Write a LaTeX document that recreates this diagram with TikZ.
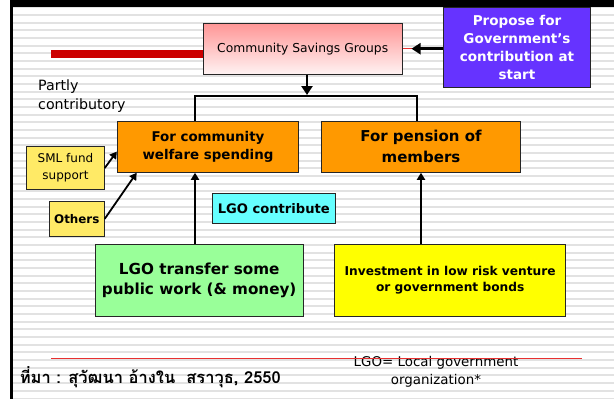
\documentclass[tikz,border=0pt]{standalone}
\usepackage{fontspec}
\setmainfont{DejaVu Sans}
\newfontfamily\thaifont[Script=Thai]{Loma}
\usetikzlibrary{arrows.meta,positioning}

\definecolor{govpurple}{RGB}{102,51,255}
\definecolor{fundorange}{RGB}{255,153,0}
\definecolor{lgocyan}{RGB}{102,255,255}
\definecolor{lgogreen}{RGB}{153,255,153}
\definecolor{bondyellow}{RGB}{255,255,0}
\definecolor{smlyellow}{RGB}{255,234,102}
\definecolor{barred}{RGB}{204,0,0}
\definecolor{thinred}{RGB}{232,48,48}
\definecolor{stripegray}{RGB}{226,226,226}
\definecolor{csgpink}{RGB}{255,150,150}

\begin{document}
\begin{tikzpicture}[x=1pt,y=-1pt,
    box/.style={draw=black!85, line width=0.9, inner sep=0, align=center},
    arr/.style={-{Triangle[length=7,width=8]}, line width=1.8},
    bigarr/.style={-{Triangle[length=9,width=11]}, line width=2.8},
    link/.style={line width=1.8}]
\useasboundingbox (0,0) rectangle (614,399);

% striped slide background
\fill[white] (0,0) rectangle (614,399);
\foreach \i in {0,...,51}
    \draw[stripegray, line width=2] (13,7.33+7.67*\i) -- (614,7.33+7.67*\i);
\fill[black] (10,0) rectangle (614,6.7);
\fill[black] (10,0) rectangle (12.7,399);

% boxes
\node[box, fill=govpurple, text=white, minimum width=147.4, minimum height=80,
      font=\bfseries\fontsize{13.5}{18}\selectfont]
    (gov) at (517,47) {Propose for\\Government's\\contribution at\\start};
\node[box, top color=csgpink, bottom color=csgpink!12, minimum width=198.7, minimum height=50.7,
      font=\fontsize{12.3}{15}\selectfont]
    (csg) at (302.7,48.7) {Community Savings Groups};
\node[box, fill=fundorange, minimum width=181.4, minimum height=51,
      font=\bfseries\fontsize{13.4}{17.7}\selectfont]
    (welfare) at (208,146.8) {For community\\welfare spending};
\node[box, fill=fundorange, minimum width=199.4, minimum height=51,
      font=\bfseries\fontsize{15}{21}\selectfont]
    (pension) at (421,146.8) {For pension of\\members};
\node[box, fill=lgocyan, minimum width=122.3, minimum height=30,
      font=\bfseries\fontsize{13.1}{15}\selectfont]
    (contrib) at (273.8,208.3) {LGO contribute};
\node[box, fill=smlyellow, minimum width=77.6, minimum height=42.6,
      font=\fontsize{12}{17}\selectfont]
    (sml) at (65.5,168) {SML fund\\support};
\node[box, fill=smlyellow, minimum width=55, minimum height=34.3,
      font=\bfseries\fontsize{11.9}{14}\selectfont]
    (others) at (76.8,218.8) {Others};
\node[box, fill=lgogreen, minimum width=208.3, minimum height=72,
      font=\bfseries\fontsize{15.2}{20}\selectfont]
    (transfer) at (199.2,280.3) {LGO transfer some\\public work (\& money)};
\node[box, fill=bondyellow, minimum width=231, minimum height=72,
      font=\bfseries\fontsize{12.2}{16}\selectfont]
    (invest) at (450.2,280.3) {Investment in low risk venture\\or government bonds};

% free text
\node[anchor=west, align=left, inner sep=0, font=\fontsize{14.2}{19}\selectfont]
    (partly) at (38,96.5) {Partly\\contributory};
\node[anchor=west, inner sep=0, font=\thaifont\bfseries\fontsize{16.5}{19}\selectfont]
    (source) at (19.6,377) {ที่มา : สุวัฒนา อ้างใน~~สราวุธ, 2550};
\node[align=center, inner sep=0, font=\fontsize{13.4}{18}\selectfont]
    (note) at (436,371.7) {LGO= Local government\\organization*};

% red bars
\coordinate (barstart) at (51,54);
\draw[barred, line width=8] (barstart) -- (barstart -| csg.west);
\draw[thinred, line width=1] (csg.east) -- (csg.east -| gov.west);
\coordinate (rulestart) at (51,358);
\coordinate (ruleend) at (582,358);
\draw[thinred, line width=1] (rulestart) -- (ruleend);

% connectors
\draw[bigarr, shorten >=9] (gov.west |- csg.east) -- (csg.east);
\coordinate (split) at (307,96);
\coordinate (bl) at (195,96);
\coordinate (br) at (416.7,96);
\draw[bigarr, shorten >=1] (split |- csg.south) -- (split);
\draw[link] (bl |- welfare.north) -- (bl) -- (br) -- (br |- pension.north);
\draw[arr] (bl |- transfer.north) -- (bl |- welfare.south);
\draw[arr] (pension.south |- invest.north) -- (pension.south);
\draw[arr] (sml.east) -- (welfare.183);
\draw[arr] (others.east) -- (welfare.200);
\end{tikzpicture}
\end{document}
